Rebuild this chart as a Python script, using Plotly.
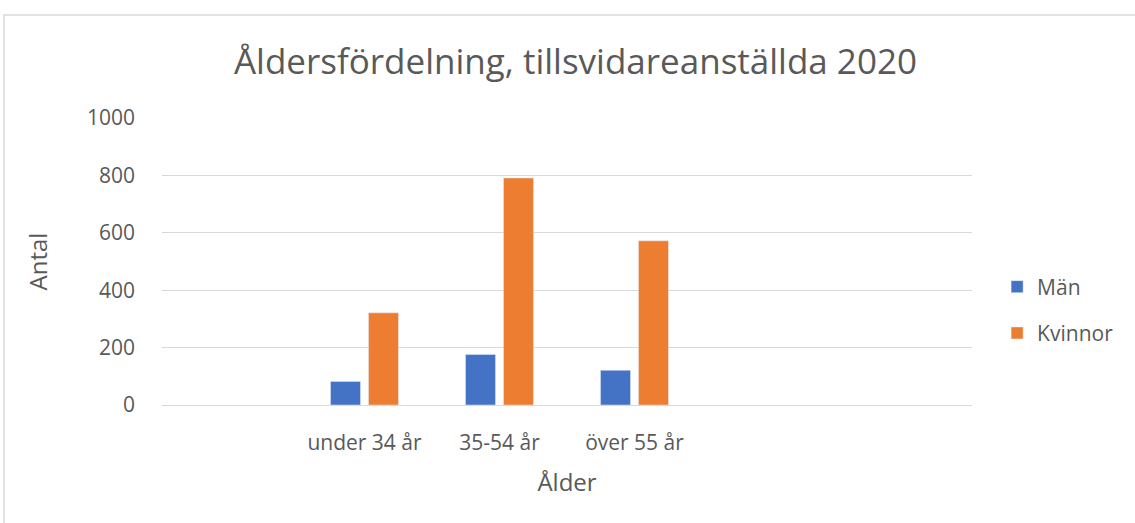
import plotly.graph_objects as go

# Age groups (blank slots keep the Excel-style empty categories on the axis)
categories = [" ", "under 34 år", "35-54 år", "över 55 år", "  ", "   "]
man = [None, 82, 176, 121, None, None]
kvinnor = [None, 321, 791, 572, None, None]

text_color = "#595959"
grid_color = "#d9d9d9"
font_family = "Open Sans, Noto Sans, sans-serif"

fig = go.Figure()
fig.add_trace(go.Bar(x=categories, y=man, name="Män", marker_color="#4472C4",
                     legendgroup="m"))
fig.add_trace(go.Bar(x=categories, y=kvinnor, name="Kvinnor", marker_color="#ED7D31",
                     legendgroup="k"))

fig.update_layout(
    width=1135, height=523,
    margin=dict(l=162, r=163, t=118, b=118),
    paper_bgcolor="white", plot_bgcolor="white",
    font=dict(family=font_family, color=text_color, size=21),
    barmode="group", bargap=0.437, bargroupgap=0.21,
    title=dict(text="Åldersfördelning, tillsvidareanställda 2020",
               x=0.507, xanchor="center", y=0.882, yanchor="middle",
               font=dict(size=35, color=text_color)),
    legend=dict(x=1.031, y=0.331, xanchor="left", yanchor="middle",
                font=dict(size=21, color=text_color),
                tracegroupgap=16, itemwidth=30, traceorder="grouped"),
    xaxis=dict(showgrid=False, showline=True, linecolor=grid_color, linewidth=1,
               ticks="", ticklabelstandoff=19, tickfont=dict(size=21),
               title=dict(text="Ålder", font=dict(size=24), standoff=18)),
    yaxis=dict(range=[0, 1000], dtick=200, showgrid=True, gridcolor=grid_color,
               gridwidth=1, zeroline=False, showline=False, ticks="",
               ticklabelstandoff=26, tickfont=dict(size=21),
               title=dict(text="Antal", font=dict(size=24), standoff=32)),
)

# Chart-area border
fig.add_shape(type="rect", xref="paper", yref="paper",
              x0=(4 - 162) / 810, x1=(1140 - 162) / 810,
              y0=(405 - 530) / 287, y1=(405 - 15) / 287,
              line=dict(color=grid_color, width=1.5), fillcolor="rgba(0,0,0,0)",
              layer="below")

fig.write_html("out.html")
